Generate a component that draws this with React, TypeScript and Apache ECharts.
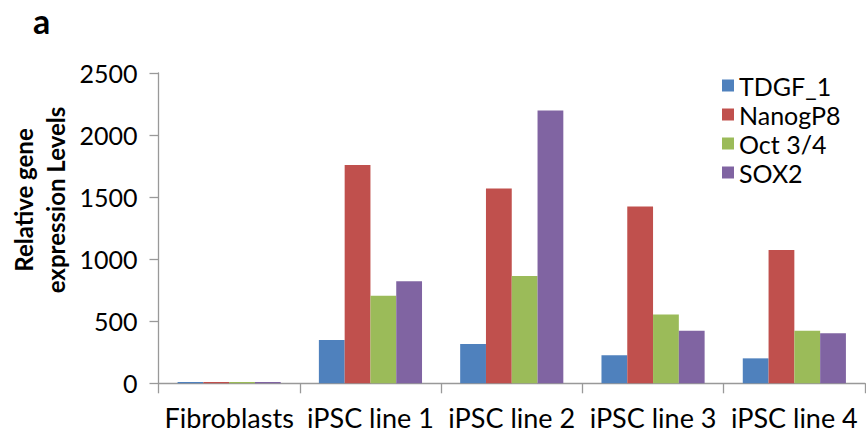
import React, { useEffect, useRef } from "react";
import * as echarts from "echarts";

const categories = ["Fibroblasts", "iPSC line 1", "iPSC line 2", "iPSC line 3", "iPSC line 4"];
const seriesNames = ["TDGF_1", "NanogP8", "Oct 3/4", "SOX2"];
const tdgf1 = [10, 348, 317, 226, 201];
const nanogP8 = [10, 1759, 1570, 1424, 1074];
const oct34 = [10, 705, 865, 555, 424];
const sox2 = [10, 823, 2197, 424, 404];
const colors = ["#4F81BD", "#C0504D", "#9BBB59", "#8064A2"];
const yTicks = { min: 0, max: 2500, interval: 500 };

const FONT = "Lato";

export default function App() {
  const ref = useRef<HTMLDivElement>(null);
  useEffect(() => {
    if (!ref.current) return;
    const chart = echarts.init(ref.current, undefined, { renderer: "svg" });
    const values = [tdgf1, nanogP8, oct34, sox2];
    chart.setOption({
      animation: false,
      backgroundColor: "#ffffff",
      textStyle: { fontFamily: FONT },
      grid: { left: 158.5, right: 1, top: 73, bottom: 54.7, containLabel: false },
      legend: {
        orient: "vertical",
        left: 717,
        top: 68,
        icon: "rect",
        itemWidth: 12,
        itemHeight: 12,
        itemGap: 4,
        textStyle: { fontFamily: FONT, fontSize: 25, color: "#000" },
        data: seriesNames,
      },
      graphic: [
        {
          type: "text",
          left: 33,
          top: 3,
          style: {
            text: "a",
            font: `bold 34px ${FONT}`,
            fill: "#000",
          },
        },
        {
          type: "text",
          x: 39,
          y: 200,
          rotation: Math.PI / 2,
          style: {
            text: "Relative gene\nexpression Levels",
            font: `bold 24px ${FONT}`,
            fill: "#000",
            align: "center",
            verticalAlign: "middle",
            lineHeight: 32,
          },
        },
      ],
      xAxis: {
        type: "category",
        data: categories,
        axisLine: { lineStyle: { color: "#999999", width: 1.3 } },
        axisTick: { show: true, length: 10, lineStyle: { color: "#999999", width: 1.3 } },
        axisLabel: { fontFamily: FONT, fontSize: 27, color: "#000", margin: 21, interval: 0 },
      },
      yAxis: {
        type: "value",
        min: yTicks.min,
        max: yTicks.max,
        interval: yTicks.interval,
        splitLine: { show: false },
        axisLine: { show: true, lineStyle: { color: "#999999", width: 1.3 } },
        axisTick: { show: true, length: 9, lineStyle: { color: "#999999", width: 1.3 } },
        axisLabel: {
          fontFamily: FONT,
          fontSize: 25,
          color: "#000",
          margin: 21,
          formatter: (v: number) => String(v),
        },
      },
      series: seriesNames.map((name, i) => ({
        name,
        type: "bar",
        data: values[i],
        barGap: "0%",
        barCategoryGap: "27%",
        itemStyle: { color: colors[i] },
      })),
    });
    return () => chart.dispose();
  }, []);
  return (
    <div
      ref={ref}
      style={{ position: "absolute", left: 0, top: 0, width: 866, height: 438 }}
    />
  );
}
